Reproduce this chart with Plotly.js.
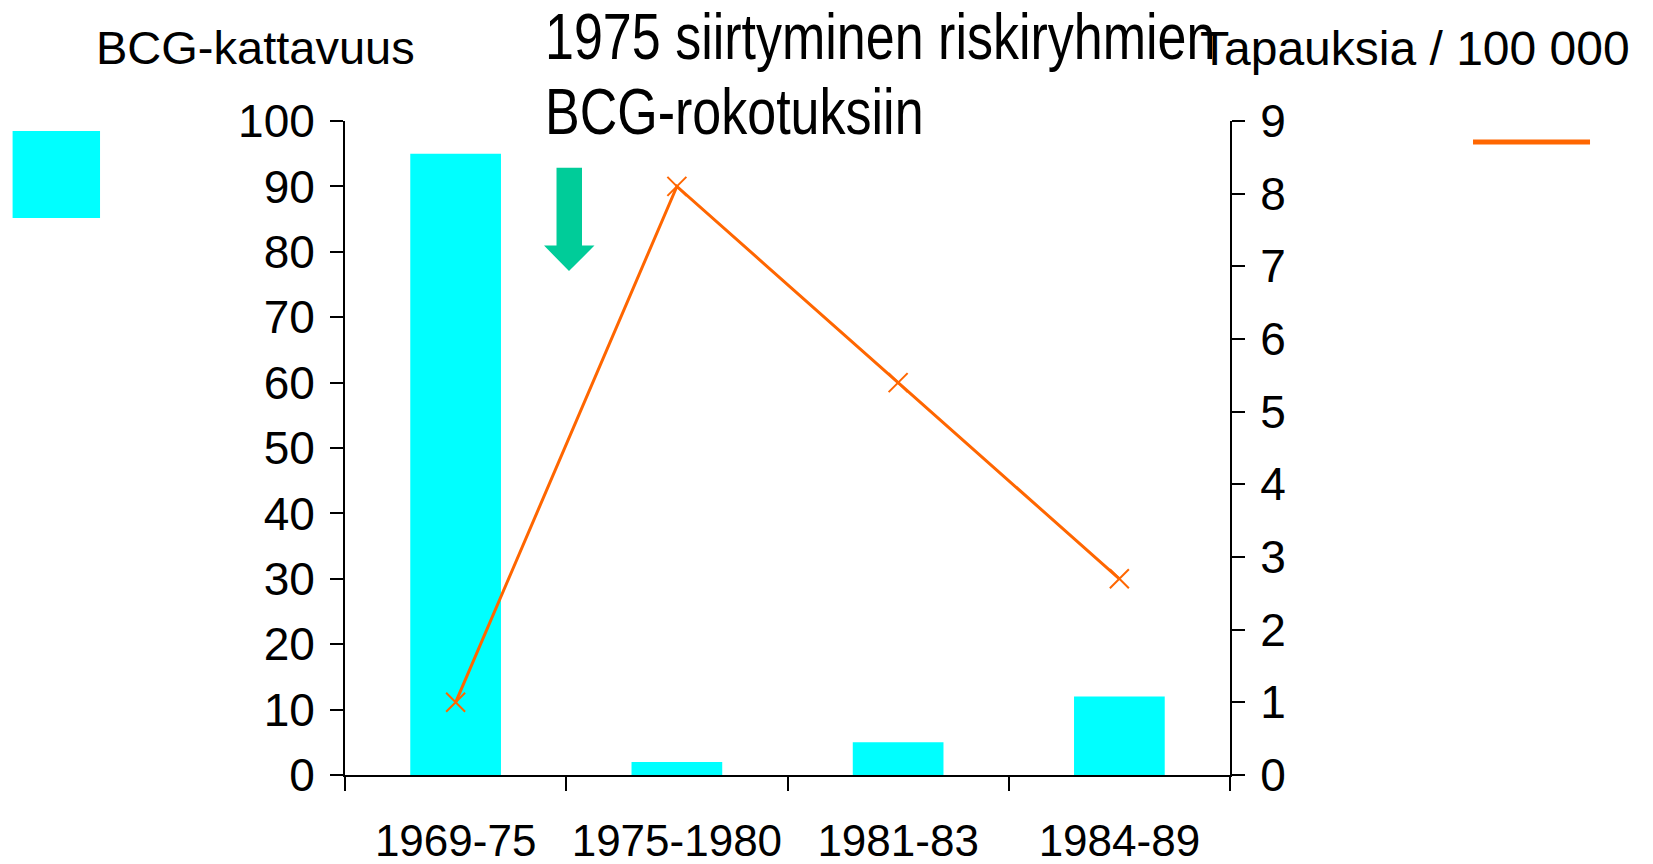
<!DOCTYPE html>
<html>
<head>
<meta charset="utf-8">
<script src="https://cdn.plot.ly/plotly-3.0.1.min.js"></script>
<style>html,body{margin:0;padding:0;background:#fff;}</style>
</head>
<body>
<div id="chart" style="width:1653px;height:864px;"></div>
<script>
const categories = ["1969-75", "1975-1980", "1981-83", "1984-89"];
const coverage = [95, 2, 5, 12];          // BCG-kattavuus (%)
const cases = [1.0, 8.1, 5.4, 2.7];       // Tapauksia / 100 000
const leftTicks = [0, 10, 20, 30, 40, 50, 60, 70, 80, 90, 100];
const rightTicks = [0, 1, 2, 3, 4, 5, 6, 7, 8, 9];

const CYAN = "#00FFFF";
const ORANGE = "#FF6600";
const GREEN = "#00CC99";
const FONT = "Liberation Sans, Arial, sans-serif";

const traces = [
  {
    type: "bar", x: categories, y: coverage, yaxis: "y", xaxis: "x",
    marker: {color: CYAN, line: {width: 0}}, width: 0.41, hoverinfo: "x+y"
  },
  {
    type: "scatter", mode: "lines+markers", x: categories, y: cases, yaxis: "y2", xaxis: "x",
    line: {color: ORANGE, width: 3},
    marker: {symbol: "x-thin", size: 19, line: {color: ORANGE, width: 2}, color: ORANGE},
    hoverinfo: "x+y"
  }
];

const common = {showgrid: false, zeroline: false, fixedrange: true};
const layout = {
  width: 1653, height: 864, autosize: false,
  margin: {l: 345, r: 423, t: 121, b: 89, pad: 0},
  paper_bgcolor: "#fff", plot_bgcolor: "#fff",
  showlegend: false,
  font: {family: FONT, color: "#000"},
  xaxis: Object.assign({}, common, {
    type: "category", categoryorder: "array", categoryarray: categories,
    range: [-0.5, 3.5], showline: true, linecolor: "#000", linewidth: 2,
    ticks: "outside", ticklen: 14, tickwidth: 2, tickcolor: "#000", tickson: "boundaries",
    tickfont: {family: FONT, size: 44, color: "#000"}, ticklabelstandoff: 26
  }),
  xaxis2: Object.assign({}, common, {
    overlaying: "x", anchor: "y", side: "bottom", type: "linear",
    range: [-0.5, 3.5], tick0: -0.5, dtick: 1, ticks: "inside", ticklen: 14, tickwidth: 2,
    tickcolor: "#000", showticklabels: false, showline: false
  }),
  yaxis: Object.assign({}, common, {
    range: [0, 100], tickmode: "array", tickvals: leftTicks, ticktext: leftTicks.map(String),
    showline: true, linecolor: "#000", linewidth: 2,
    ticks: "outside", ticklen: 13, tickwidth: 2, tickcolor: "#000",
    tickfont: {family: FONT, size: 46, color: "#000"}, ticklabelstandoff: 6
  }),
  yaxis3: Object.assign({}, common, {
    overlaying: "y", anchor: "x", side: "left", range: [0, 100],
    tickmode: "array", tickvals: leftTicks, ticks: "inside", ticklen: 13, tickwidth: 2,
    tickcolor: "#000", showticklabels: false, showline: false
  }),
  yaxis2: Object.assign({}, common, {
    overlaying: "y", anchor: "x", side: "right", range: [0, 9],
    tickmode: "array", tickvals: rightTicks, ticktext: rightTicks.map(String),
    showline: true, linecolor: "#000", linewidth: 2,
    ticks: "outside", ticklen: 13, tickwidth: 2, tickcolor: "#000",
    tickfont: {family: FONT, size: 46, color: "#000"}, ticklabelstandoff: 6
  }),
  yaxis4: Object.assign({}, common, {
    overlaying: "y", anchor: "x", side: "right", range: [0, 9],
    tickmode: "array", tickvals: rightTicks, ticks: "inside", ticklen: 13, tickwidth: 2,
    tickcolor: "#000", showticklabels: false, showline: false
  }),
  shapes: [
    {type: "rect", xref: "paper", yref: "paper", x0: -0.3756, x1: -0.2768, y0: 0.8517, y1: 0.9847,
     fillcolor: CYAN, line: {width: 0}},
    {type: "line", xref: "paper", yref: "paper", x0: 1.2746, x1: 1.4068, y0: 0.9679, y1: 0.9679,
     line: {color: ORANGE, width: 5}},
    {type: "path", xref: "paper", yref: "paper",
     path: "M 0.2390 0.9287 L 0.2678 0.9287 L 0.2678 0.8095 L 0.2819 0.8095 L 0.2531 0.7706 L 0.2249 0.8095 L 0.2390 0.8095 Z",
     fillcolor: GREEN, line: {width: 0}}
  ],
  annotations: [
    {text: "BCG-kattavuus", xref: "paper", yref: "paper", x: -0.2835, y: 1.1120,
     xanchor: "left", yanchor: "middle", showarrow: false, font: {family: FONT, size: 47, color: "#000"}},
    {text: "Tapauksia / 100 000", xref: "paper", yref: "paper", x: 0.9640, y: 1.1110,
     xanchor: "left", yanchor: "middle", showarrow: false, font: {family: FONT, size: 48, color: "#000"}},
    {text: "1975 siirtyminen riskiryhmien", xref: "paper", yref: "paper", x: 0.2237, y: 1.1289,
     xanchor: "left", yanchor: "middle", showarrow: false, font: {family: FONT, size: 65, color: "#000"}},
    {text: "BCG-rokotuksiin", xref: "paper", yref: "paper", x: 0.2237, y: 1.0139,
     xanchor: "left", yanchor: "middle", showarrow: false, font: {family: FONT, size: 65, color: "#000"}}
  ]
};

function squeeze(el, s, anchor) {
  const bb = el.getBBox();
  const ax = anchor === "left" ? bb.x : bb.x + bb.width / 2;
  const existing = el.getAttribute("transform") || "";
  el.setAttribute("transform", existing + " translate(" + ax + ",0) scale(" + s + ",1) translate(" + (-ax) + ",0)");
}

Plotly.newPlot("chart", traces, layout, {displayModeBar: false, staticPlot: true}).then(function (gd) {
  gd.querySelectorAll("text.annotation-text").forEach(function (t) {
    const s = t.textContent;
    if (s.indexOf("1975") === 0 || s.indexOf("BCG-rokotuksiin") === 0) squeeze(t, 0.80, "left");
  });
});
</script>
</body>
</html>
